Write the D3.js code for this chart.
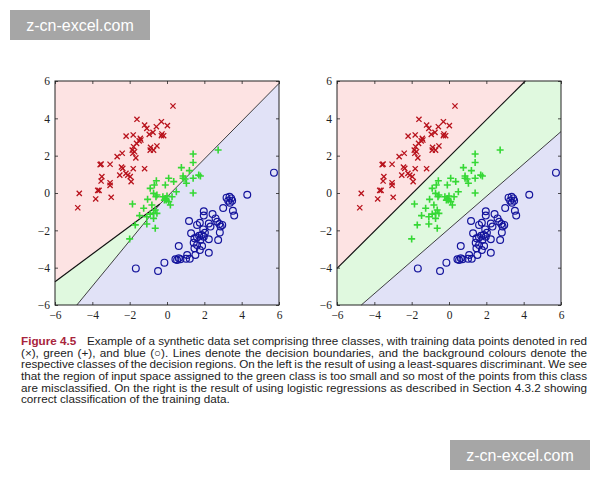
<!DOCTYPE html>
<html>
<head>
<meta charset="utf-8">
<script src="https://cdn.jsdelivr.net/npm/d3@7"></script>
<style>
body { margin: 0; background: #fff; }
svg { display: block; }
</style>
</head>
<body>
<div id="svg_wrapper"></div>
<script>
// training data (same set in both panels)
const redPoints = [
    [0.32,4.66],[-1.61,3.95],[-1.2,3.64],[-1.08,3.46],[-0.3,3.82],[0.02,3.61],[-0.57,3.55],
    [-0.75,3.25],[-0.95,3.14],[-0.27,3.16],[-0.18,3.07],[-0.3,3.07],[-2.19,3.05],[-1.81,3.11],
    [-1.43,2.93],[-1.49,2.79],[-1.4,2.84],[-1.63,2.66],[-1.79,2.48],[-1.86,2.3],[-1.74,2.21],
    [-1.83,2.13],[-0.88,2.45],[-0.72,2.3],[-0.9,2.3],[-0.54,2.52],[-2.4,2.13],[-2.67,1.95],
    [-1.67,1.88],[-3.53,1.55],[-3.58,1.52],[-3.05,1.54],[-2.44,1.39],[-2.37,1.32],[-1.81,1.3],
    [-1.2,1.3],[-2.53,0.96],[-2.2,1.05],[-2.1,0.96],[-1.97,0.88],[-3.49,0.88],[-3.53,0.64],
    [-3.05,0.55],[-3.05,0.41],[-1.92,0.61],[-3.71,0.14],[-3.64,0.14],[-4.7,-0.02],[-2.99,-0.23],
    [-3.82,-0.32],[-4.78,-0.79]
];

const greenPoints = [
    [1.4,2.09],[1.4,1.63],[2.74,2.3],[0.77,1.36],[1.2,1.2],[1.7,0.96],[1.79,0.91],[0.86,0.91],
    [0.97,0.75],[0.86,0.79],[1.4,0.79],[1.04,0.52],[0.09,0.79],[0.36,0.61],[-0.57,0.66],
    [-0.68,0.43],[-0.09,0.43],[-0.9,0.25],[0.5,0.07],[1.4,0],[-0.72,-0.02],[-0.54,-0.11],
    [-0.59,-0.2],[-0.22,-0.2],[-0.09,-0.29],[-0.04,-0.38],[0.09,-0.46],[-0.14,-0.38],[0,-0.16],
    [0.27,-0.2],[-1.04,-0.34],[-1.85,-0.59],[-0.81,-0.64],[0.18,-0.64],[-1.25,-0.82],
    [-0.63,-0.91],[-0.72,-1.09],[-0.54,-1.09],[-1.47,-1.21],[-1.08,-1.27],[-0.9,-1.13],
    [-0.72,-1.36],[-1.08,-1.66],[-1.7,-1.71],[-0.63,-1.89],[-2.0,-2.46]
];

const bluePoints = [
    [5.73,1.09],[4.3,-0.09],[3.19,-0.25],[3.35,-0.2],[3.44,-0.29],[3.49,-0.41],[3.28,-0.41],
    [3.37,-0.52],[3.01,-0.8],[3.53,-0.95],[3.6,-1.21],[1.97,-0.98],[2.44,-1.13],[1.97,-1.21],
    [2.6,-1.36],[2.69,-1.54],[2.81,-1.66],[2.87,-1.8],[2.96,-1.71],[1.18,-1.5],[1.61,-1.71],
    [1.76,-1.59],[2.24,-1.63],[2.33,-1.8],[1.94,-1.95],[2.03,-2.13],[1.86,-2.25],[1.72,-2.29],
    [1.97,-2.34],[1.61,-2.39],[1.79,-2.52],[1.29,-2.16],[2.83,-2.11],[1.47,-2.43],[2.24,-2.48],
    [2.74,-2.52],[1.43,-2.66],[1.61,-2.79],[1.88,-2.84],[0.63,-2.84],[1.47,-2.96],[1.76,-3.05],
    [2.24,-3.2],[1.08,-3.32],[1.52,-3.32],[0.63,-3.5],[0.45,-3.55],[0.54,-3.59],[0.72,-3.55],
    [1.02,-3.52],[1.22,-3.52],[-0.14,-3.73],[-0.48,-4.18],[-1.67,-4.04]
];

const ticks = [-6, -4, -2, 0, 2, 4, 6];

// decision regions (vertices in data units) and boundaries
const leftRegions = [
    { cls: 'red',   pts: [[-6,6],[6,6],[6,5.87],[-0.38,-0.59],[-6,-4.75]] },
    { cls: 'green', pts: [[-6,-4.75],[-0.38,-0.59],[-4.83,-6],[-6,-6]] },
    { cls: 'blue',  pts: [[-0.38,-0.59],[6,5.87],[6,-6],[-4.83,-6]] }
];
const leftBoundaries = [
    [[-6,-4.75],[-0.38,-0.59]],
    [[-0.38,-0.59],[6,5.87]],
    [[-4.83,-6],[-0.38,-0.59]]
];

const rightRegions = [
    { cls: 'red',   pts: [[-6,6],[4.09,6],[-6,-4.04]] },
    { cls: 'green', pts: [[4.09,6],[6,6],[6,3.29],[-4.7,-6],[-6,-6],[-6,-4.04]] },
    { cls: 'blue',  pts: [[6,3.29],[6,-6],[-4.7,-6]] }
];
const rightBoundaries = [
    [[-6,-4.04],[4.09,6]],
    [[-4.7,-6],[6,3.29]]
];

const captionLines = [
    'Example of a synthetic data set comprising three classes, with training data points denoted in red',
    '(\u00d7), green (+), and blue (\u25cb). Lines denote the decision boundaries, and the background colours denote the',
    'respective classes of the decision regions. On the left is the result of using a least-squares discriminant. We see',
    'that the region of input space assigned to the green class is too small and so most of the points from this class',
    'are misclassified. On the right is the result of using logistic regressions as described in Section 4.3.2 showing',
    'correct classification of the training data.'
];

const width = 600, height = 480;

const fills = { red: '#fde3e3', green: '#e0f9df', blue: '#e1e2f7' };

const svg = d3.select('#svg_wrapper')
    .append('svg')
    .attr('width', width)
    .attr('height', height)
    .attr('viewBox', `0 0 ${width} ${height}`);

drawPanel(55, leftRegions, leftBoundaries);
drawPanel(337, rightRegions, rightBoundaries);
drawCaption();
drawWatermarks();

function drawPanel(left, regions, boundaries) {
    const top = 81, size = 224;

    const x = d3.scaleLinear().domain([-6, 6]).range([left, left + size]);
    const y = d3.scaleLinear().domain([-6, 6]).range([top + size, top]);
    const line = d3.line().x(d => x(d[0])).y(d => y(d[1]));

    const g = svg.append('g');

    g.selectAll('path.region')
    .data(regions)
    .enter()
    .append('path')
    .attr('class', 'region')
    .attr('d', d => line(d.pts) + 'Z')
    .attr('fill', d => fills[d.cls]);

    g.selectAll('path.boundary')
    .data(boundaries)
    .enter()
    .append('path')
    .attr('class', 'boundary')
    .attr('d', d => line(d))
    .attr('fill', 'none')
    .attr('stroke', '#111')
    .attr('stroke-width', (d, i) => i === 0 ? 1.2 : 0.8);

    // red crosses
    const c = 2.6;
    g.selectAll('path.red')
    .data(redPoints)
    .enter()
    .append('path')
    .attr('class', 'red')
    .attr('transform', d => `translate(${x(d[0])},${y(d[1])})`)
    .attr('d', `M${-c},${-c}L${c},${c}M${-c},${c}L${c},${-c}`)
    .attr('stroke', '#b8121c')
    .attr('stroke-width', 1.3)
    .attr('fill', 'none');

    // green pluses
    const p = 3.5;
    g.selectAll('path.green')
    .data(greenPoints)
    .enter()
    .append('path')
    .attr('class', 'green')
    .attr('transform', d => `translate(${x(d[0])},${y(d[1])})`)
    .attr('d', `M${-p},0H${p}M0,${-p}V${p}`)
    .attr('stroke', '#35d835')
    .attr('stroke-width', 1.6)
    .attr('fill', 'none');

    // blue circles
    g.selectAll('circle')
    .data(bluePoints)
    .enter()
    .append('circle')
    .attr('cx', d => x(d[0]))
    .attr('cy', d => y(d[1]))
    .attr('r', 3.4)
    .attr('fill', 'none')
    .attr('stroke', '#14149c')
    .attr('stroke-width', 1.2);

    // box with inward ticks on all sides
    const fmt = d => d < 0 ? '\u2212' + Math.abs(d) : d;
    const bottomAxis = d3.axisBottom(x).tickValues(ticks).tickSizeInner(-3).tickSizeOuter(0).tickPadding(6).tickFormat(fmt);
    const leftAxis = d3.axisLeft(y).tickValues(ticks).tickSizeInner(-3).tickSizeOuter(0).tickPadding(5).tickFormat(fmt);
    const topAxis = d3.axisTop(x).tickValues(ticks).tickSizeInner(-3).tickSizeOuter(0).tickFormat('');
    const rightAxis = d3.axisRight(y).tickValues(ticks).tickSizeInner(-3).tickSizeOuter(0).tickFormat('');

    const axes = [
        { a: bottomAxis, t: `translate(0,${top + size})` },
        { a: leftAxis, t: `translate(${left},0)` },
        { a: topAxis, t: `translate(0,${top})` },
        { a: rightAxis, t: `translate(${left + size},0)` }
    ];

    for (let i in axes) {
        const ax = g.append('g')
        .attr('transform', axes[i].t)
        .call(axes[i].a);

        ax.select('.domain').remove();
        ax.selectAll('line').attr('stroke', '#222').attr('stroke-width', 0.8);
        ax.selectAll('text')
        .attr('font-family', '"Liberation Serif", "DejaVu Serif", serif')
        .attr('font-size', 11.5)
        .attr('fill', '#222');
    }

    g.append('rect')
    .attr('x', left)
    .attr('y', top)
    .attr('width', size)
    .attr('height', size)
    .attr('fill', 'none')
    .attr('stroke', '#222')
    .attr('stroke-width', 1);
}

function drawCaption() {
    const x0 = 21, x1 = 587;
    const lineGap = 11.7, firstBase = 344.8;
    const font = '"Liberation Sans", Arial, sans-serif';
    const fontSize = 11.7;

    const g = svg.append('g')
    .attr('font-family', font)
    .attr('font-size', fontSize)
    .attr('fill', '#222');

    g.append('text')
    .attr('x', x0)
    .attr('y', firstBase)
    .attr('font-weight', 'bold')
    .attr('fill', '#a8243c')
    .text('Figure 4.5');

    for (let i = 0; i < captionLines.length; i++) {
        const start = i === 0 ? 87 : x0;
        const justify = i < captionLines.length - 1;
        const baseline = firstBase + i * lineGap;

        const text = g.append('text').attr('y', baseline);
        const words = captionLines[i].split(' ');
        const spans = words.map(w => text.append('tspan').text(w));
        const widths = spans.map(s => s.node().getComputedTextLength());
        const total = d3.sum(widths);
        const space = fontSize * 0.28;
        const gap = justify ? (x1 - start - total) / (words.length - 1) : space;

        let cx = start;
        spans.forEach((s, j) => {
            s.attr('x', cx);
            cx += widths[j] + gap;
        });
    }
}

function drawWatermarks() {
    const marks = [[10, 10], [450, 440]];

    for (let i in marks) {
        svg.append('rect')
        .attr('x', marks[i][0])
        .attr('y', marks[i][1])
        .attr('width', 140)
        .attr('height', 30)
        .attr('fill', '#a6a6a6');

        svg.append('text')
        .attr('x', marks[i][0] + 70)
        .attr('y', marks[i][1] + 21)
        .attr('text-anchor', 'middle')
        .attr('font-family', '"Liberation Sans", Arial, sans-serif')
        .attr('font-size', 16)
        .attr('fill', '#fff')
        .text('z-cn-excel.com');
    }
}
</script>
</body>
</html>
